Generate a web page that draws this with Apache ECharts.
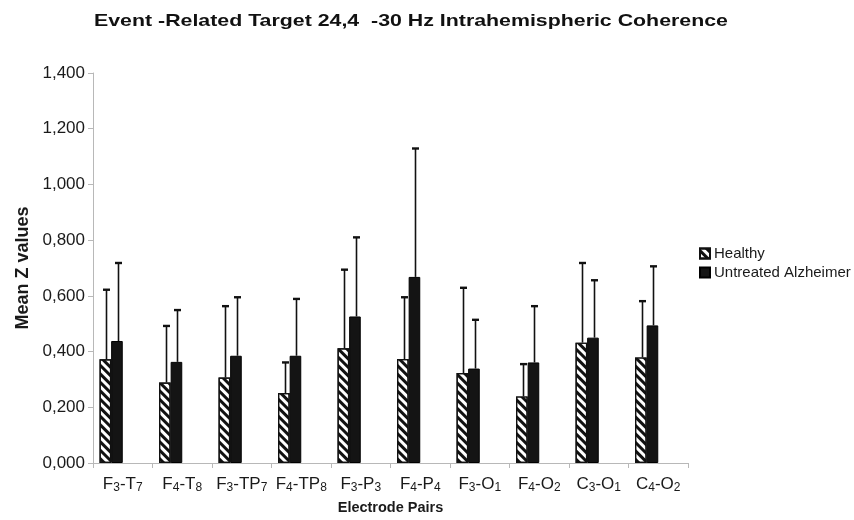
<!DOCTYPE html>
<html>
<head>
<meta charset="utf-8">
<script src="https://cdn.jsdelivr.net/npm/echarts@6/dist/echarts.min.js"></script>
<style>
  html, body { margin: 0; padding: 0; background: #fff; }
  #chart { width: 854px; height: 520px; }
</style>
</head>
<body>
<div id="chart"></div>
<script>
// Electrode pairs along the x axis
const categories = ['F3-T7', 'F4-T8', 'F3-TP7', 'F4-TP8', 'F3-P3', 'F4-P4', 'F3-O1', 'F4-O2', 'C3-O1', 'C4-O2'];

// Group means and standard deviations (mean Z values)
const healthyMean = [0.372, 0.289, 0.307, 0.251, 0.412, 0.373, 0.323, 0.239, 0.432, 0.379];
const healthySD   = [0.250, 0.203, 0.256, 0.110, 0.282, 0.222, 0.306, 0.116, 0.286, 0.202];
const alzMean     = [0.438, 0.363, 0.385, 0.385, 0.526, 0.668, 0.339, 0.361, 0.450, 0.494];
const alzSD       = [0.280, 0.186, 0.210, 0.204, 0.284, 0.461, 0.175, 0.202, 0.206, 0.212];

const seriesNames = ['Healthy', 'Untreated Alzheimer'];
const titleText = 'Event -Related Target 24,4  -30 Hz Intrahemispheric Coherence';

// Each category reserves four bar slots; the two groups fill the first two
const SLOTS = 4;
const CAT_GAP = 0.22;

const FONT = '"Liberation Sans", Arial, sans-serif';
const INK = '#1a1a1a';

function pairLabel(name) {
  const m = name.match(/^([A-Z]+)(\d)-([A-Z]+)(\d)$/);
  return '{m|' + m[1] + '}{s|' + m[2] + '}{m|-' + m[3] + '}{s|' + m[4] + '}';
}

function errorSeries(slot, means, sds) {
  return {
    type: 'custom',
    name: 'err' + slot,
    z: 5,
    silent: true,
    encode: { x: 0, y: 1 },
    data: means.map((v, i) => [i, v, sds[i]]),
    renderItem: function (params, api) {
      const ci = api.value(0), mean = api.value(1), sd = api.value(2);
      const band = api.size([1, 0])[0];
      const w = band * (1 - CAT_GAP) / SLOTS;
      const off = (slot - (SLOTS - 1) / 2) * w;
      const p0 = api.coord([ci, mean]);
      const p1 = api.coord([ci, mean + sd]);
      const x = Math.round(p0[0] + off + 1) + 0.5;
      return {
        type: 'group',
        children: [
          { type: 'line', shape: { x1: x, y1: p0[1], x2: x, y2: p1[1] }, style: { stroke: '#111', lineWidth: 1.6 } },
          { type: 'line', shape: { x1: x - 3.5, y1: p1[1], x2: x + 3.5, y2: p1[1] }, style: { stroke: '#111', lineWidth: 2.4 } }
        ]
      };
    }
  };
}

const chart = echarts.init(document.getElementById('chart'), null, { renderer: 'canvas' });

const barCommon = { barGap: 0, barCategoryGap: (CAT_GAP * 100) + '%' };

chart.setOption({
  animation: false,
  backgroundColor: '#fff',
  graphic: [{
    type: 'text',
    left: 94,
    top: 13,
    scaleX: 1.255,
    style: { text: titleText, font: 'bold 17px ' + FONT, fill: '#111' }
  }],
  legend: {
    data: seriesNames,
    orient: 'vertical',
    left: 699,
    top: 246,
    padding: 0,
    itemWidth: 10,
    itemHeight: 10,
    itemGap: 4,
    icon: 'rect',
    textStyle: { fontFamily: FONT, fontSize: 15, color: INK, padding: [0, 0, 0, -1] }
  },
  grid: { left: 93, right: 166, top: 73, bottom: 53, containLabel: false },
  xAxis: {
    type: 'category',
    data: categories,
    name: 'Electrode Pairs',
    nameLocation: 'middle',
    nameGap: 37,
    nameTextStyle: { fontFamily: FONT, fontSize: 14.5, fontWeight: 'bold', color: INK },
    axisLine: { lineStyle: { color: '#b8b8b8', width: 1 } },
    axisTick: { show: true, interval: 0, length: 5, lineStyle: { color: '#b8b8b8' } },
    axisLabel: {
      interval: 0,
      margin: 12,
      formatter: pairLabel,
      rich: {
        m: { fontFamily: FONT, fontSize: 17, color: INK },
        s: { fontFamily: FONT, fontSize: 12, color: INK, verticalAlign: 'bottom', padding: [7, 0, 0, 0] }
      }
    }
  },
  yAxis: {
    type: 'value',
    min: 0,
    max: 1.4,
    interval: 0.2,
    name: 'Mean Z values',
    nameLocation: 'middle',
    nameGap: 60,
    nameTextStyle: { fontFamily: FONT, fontSize: 18, fontWeight: 'bold', color: INK },
    axisLine: { show: true, lineStyle: { color: '#b8b8b8', width: 1 } },
    axisTick: { show: true, length: 5, lineStyle: { color: '#b8b8b8' } },
    splitLine: { show: false },
    axisLabel: {
      margin: 8,
      fontFamily: FONT,
      fontSize: 17,
      color: INK,
      formatter: v => v.toFixed(3).replace('.', ',')
    }
  },
  series: [
    Object.assign({
      type: 'bar',
      name: seriesNames[0],
      data: healthyMean,
      itemStyle: {
        color: '#fff',
        borderColor: '#111',
        borderWidth: 1.2,
        decal: {
          symbol: 'rect',
          symbolSize: 1,
          color: '#111',
          dashArrayX: [1, 0],
          dashArrayY: [2.4, 2.6],
          rotation: Math.PI / 4
        }
      }
    }, barCommon),
    Object.assign({
      type: 'bar',
      name: seriesNames[1],
      data: alzMean,
      itemStyle: { color: '#141414', borderColor: '#000', borderWidth: 1 }
    }, barCommon),
    Object.assign({ type: 'bar', name: 'slot3', data: [] }, barCommon),
    Object.assign({ type: 'bar', name: 'slot4', data: [] }, barCommon),
    errorSeries(0, healthyMean, healthySD),
    errorSeries(1, alzMean, alzSD)
  ]
});
</script>
</body>
</html>
